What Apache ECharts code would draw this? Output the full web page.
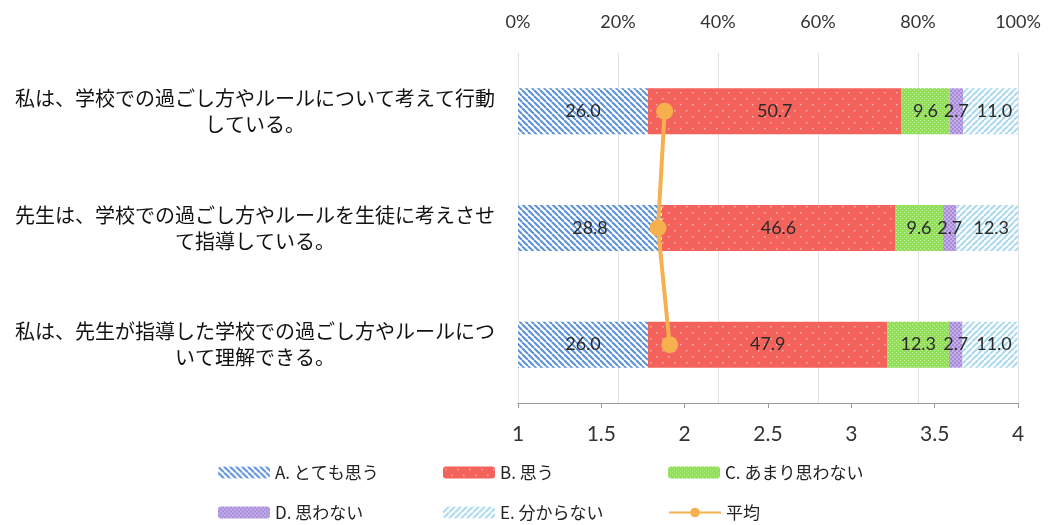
<!DOCTYPE html>
<html><head><meta charset="utf-8">
<script src="https://cdn.jsdelivr.net/npm/echarts@6/dist/echarts.min.js"></script>
<style>html,body{margin:0;padding:0;background:#fff}#c{width:1048px;height:525px}</style>
</head><body><div id="c"></div>
<script>
const categories = [
  '私は、学校での過ごし方やルールについて考えて行動\nしている。',
  '先生は、学校での過ごし方やルールを生徒に考えさせ\nて指導している。',
  '私は、先生が指導した学校での過ごし方やルールにつ\nいて理解できる。'
];
const seriesNames = ['A. とても思う','B. 思う','C. あまり思わない','D. 思わない','E. 分からない'];
const valA = [26.0, 28.8, 26.0];
const valB = [50.7, 46.6, 47.9];
const valC = [9.6, 9.6, 12.3];
const valD = [2.7, 2.7, 2.7];
const valE = [11.0, 12.3, 11.0];
const avgName = '平均';
const avgVals = [1.88, 1.84, 1.91];
const pctTicks = {min:0, max:100, interval:20};
const avgTicks = {min:1, max:4, interval:0.5};

function pat(w,h,draw){const c=document.createElement('canvas');c.width=w;c.height=h;const g=c.getContext('2d');draw(g,w,h);return {image:c,repeat:'repeat'};}
function stripes(bg,fg,dir){return pat(6,6,(g,w,h)=>{g.fillStyle=bg;g.fillRect(0,0,w,h);g.strokeStyle=fg;g.lineWidth=2;
  for(let k=-2;k<=2;k++){g.beginPath(); if(dir>0){g.moveTo(k*w,0);g.lineTo(k*w+w,h);} else {g.moveTo(k*w+w,0);g.lineTo(k*w,h);} g.stroke();}});}
const pA = stripes('#ffffff','#5a8fda',1);
const pE = stripes('#ffffff','#a9d9ee',-1);
const pB = pat(12,12,(g)=>{g.fillStyle='#f3625b';g.fillRect(0,0,12,12);g.fillStyle='#f9b0ab';g.fillRect(2,2,1.5,1.5);g.fillRect(8,8,1.5,1.5);});
const pC = pat(4,4,(g)=>{g.fillStyle='#8fe052';g.fillRect(0,0,4,4);g.fillStyle='#c8f0a8';g.fillRect(0,0,1,1);g.fillRect(2,2,1,1);});
const pD = pat(4,4,(g)=>{g.fillStyle='#c4aee8';g.fillRect(0,0,4,4);g.fillStyle='#a88ad8';g.fillRect(0,0,2,2);g.fillRect(2,2,2,2);});
const patterns=[pA,pB,pC,pD,pE];
const vals=[valA,valB,valC,valD,valE];
const labelOffsets=[[0,0],[0,0],[0,0],[0,0],[4,0]];

const font='"Noto Sans CJK JP","Noto Sans",sans-serif';
const latin='Lato,"Open Sans",sans-serif';
const series = seriesNames.map((n,i)=>({
  name:n, type:'bar', stack:'total', xAxisIndex:0, yAxisIndex:0, barWidth:46,
  itemStyle:{color:patterns[i]},
  label:{show:true, position:'inside', offset:labelOffsets[i], color:'#2a2a2a', fontSize:18, fontFamily:latin,
    formatter:p=>p.value.toFixed(1)},
  data:vals[i]
}));
series.push({name:avgName, type:'line', xAxisIndex:1, yAxisIndex:0, z:10,
  data:avgVals.map((v,i)=>[v,categories[i]]),
  symbol:'circle', symbolSize:17, lineStyle:{color:'#f6b04e',width:4}, itemStyle:{color:'#f6b04e'}, label:{show:false}});

const legendPos=[[213,459],[438,459],[663,459],[213,499],[438,499],[663,499]];
const legNames=[...seriesNames, avgName];
const legends = legNames.map((n,i)=>({data:[n], left:legendPos[i][0], top:legendPos[i][1], itemWidth:52, itemHeight:12,
  textStyle:{fontSize:17, color:'#222', fontFamily:font}, itemGap:4, selectedMode:false}));

const chart=echarts.init(document.getElementById('c'),null,{renderer:'canvas'});
chart.setOption({
  animation:false,
  textStyle:{fontFamily:font},
  grid:{left:518, right:30, top:53, bottom:122},
  legend:legends,
  xAxis:[
    {type:'value', position:'top', min:pctTicks.min, max:pctTicks.max, interval:pctTicks.interval,
     axisLabel:{formatter:'{value}%', fontSize:18, color:'#333', margin:22, fontFamily:latin},
     axisLine:{show:false}, axisTick:{show:false}, splitLine:{show:true, lineStyle:{color:'#e2e2e2'}}},
    {type:'value', position:'bottom', min:avgTicks.min, max:avgTicks.max, interval:avgTicks.interval,
     axisLabel:{fontSize:21, color:'#333', margin:21, fontFamily:latin},
     axisLine:{show:true, lineStyle:{color:'#9a9a9a'}}, axisTick:{show:true, length:5, lineStyle:{color:'#9a9a9a'}}, splitLine:{show:false}}
  ],
  yAxis:[{type:'category', data:categories, inverse:true,
    axisLine:{show:false}, axisTick:{show:false},
    axisLabel:{align:'center', margin:263, fontSize:20, lineHeight:26, color:'#111', fontWeight:'normal', fontFamily:font}}],
  series:series
});
</script></body></html>
